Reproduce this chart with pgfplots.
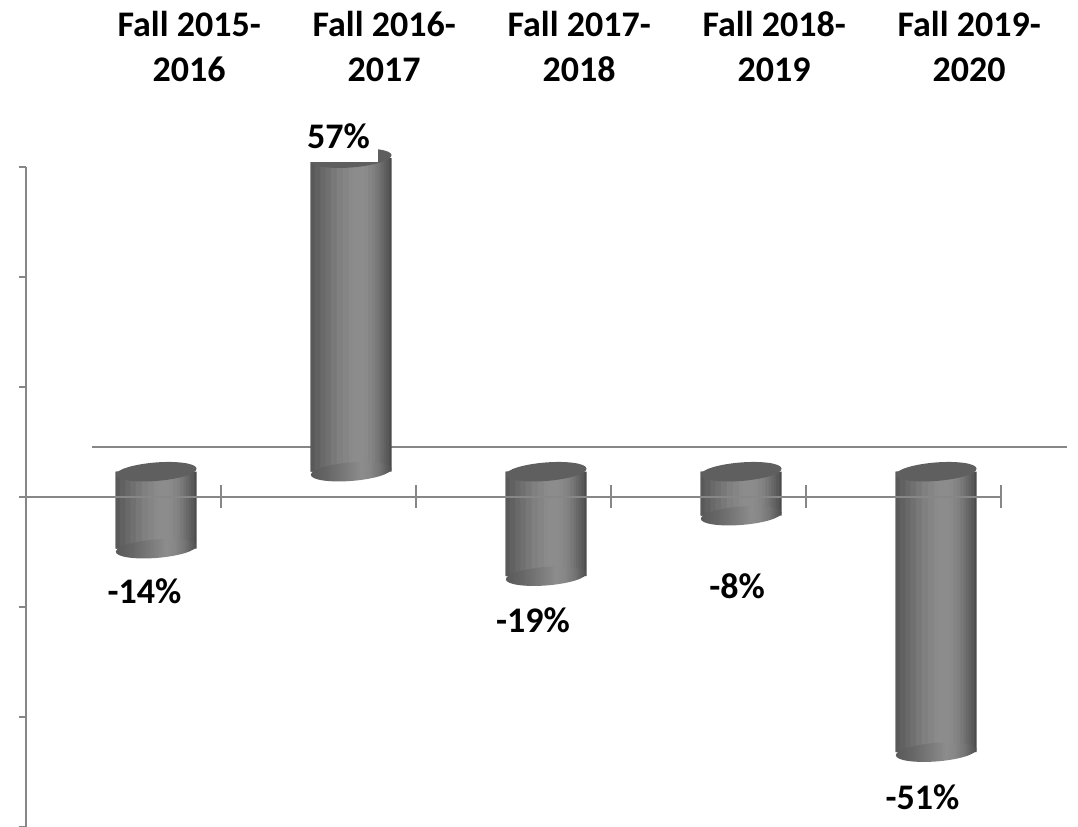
\documentclass[border=0pt]{standalone}
\usepackage{pgfplots}
\usepackage{pgfplotstable}
\pgfplotsset{compat=1.18}
\usepackage{fontspec}
\setmainfont{Carlito}
\definecolor{axgray}{HTML}{878787}
\definecolor{topface}{HTML}{5F5F5F}
\pgfdeclarehorizontalshading{cylshade}{100bp}{%
  rgb(0bp)=(0.35,0.35,0.35);
  rgb(25bp)=(0.35,0.35,0.35);
  rgb(35bp)=(0.40,0.40,0.40);
  rgb(45bp)=(0.47,0.47,0.47);
  rgb(52bp)=(0.52,0.52,0.52);
  rgb(56bp)=(0.55,0.55,0.55);
  rgb(61bp)=(0.53,0.53,0.53);
  rgb(67bp)=(0.46,0.46,0.46);
  rgb(72bp)=(0.36,0.36,0.36);
  rgb(75bp)=(0.30,0.30,0.30);
  rgb(100bp)=(0.30,0.30,0.30)}
% lower end of a cylinder
\pgfdeclareplotmark{cylbot}{%
  \pgfpathellipse{\pgfpointorigin}{\pgfqpoint{20.17pt}{1.6pt}}{\pgfqpoint{-0.4pt}{4.6pt}}%
  \pgfshadepath{cylshade}{0}\pgfusepath{discard}}
% visible upper face of a cylinder
\pgfdeclareplotmark{cyltop}{%
  \pgfsetfillcolor{topface}%
  \pgfpathellipse{\pgfpointorigin}{\pgfqpoint{20.17pt}{1.6pt}}{\pgfqpoint{-0.4pt}{4.6pt}}%
  \pgfusepath{fill}}
\pgfplotsset{
  base/.style={scale only axis, width=487.5pt, height=330pt,
    xmin=-0.5, xmax=4.5, ymin=-60, ymax=60, at={(0pt,0pt)}, anchor=south west},
  % nested bar layers giving the horizontal tone of a cylinder
  lev0/.style={fill={rgb,1:red,0.30;green,0.30;blue,0.30}, bar width=40.5pt, bar shift=0pt},
  lev1/.style={fill={rgb,1:red,0.35;green,0.35;blue,0.35}, bar width=39.285pt, bar shift=-0.6075pt},
  lev2/.style={fill={rgb,1:red,0.38;green,0.38;blue,0.38}, bar width=35.64pt, bar shift=-0.405pt},
  lev3/.style={fill={rgb,1:red,0.41;green,0.41;blue,0.41}, bar width=31.59pt, bar shift=0.405pt},
  lev4/.style={fill={rgb,1:red,0.44;green,0.44;blue,0.44}, bar width=27.945pt, bar shift=1.0125pt},
  lev5/.style={fill={rgb,1:red,0.47;green,0.47;blue,0.47}, bar width=23.895pt, bar shift=1.8225pt},
  lev6/.style={fill={rgb,1:red,0.50;green,0.50;blue,0.50}, bar width=19.44pt, bar shift=2.43pt},
  lev7/.style={fill={rgb,1:red,0.52;green,0.52;blue,0.52}, bar width=14.58pt, bar shift=3.24pt},
  lev8/.style={fill={rgb,1:red,0.54;green,0.54;blue,0.54}, bar width=9.72pt, bar shift=3.645pt},
  lev9/.style={fill={rgb,1:red,0.55;green,0.55;blue,0.55}, bar width=5.67pt, bar shift=3.645pt},
}
\pgfplotstableread{
x y
0 -14
1 57
2 -19
3 -8
4 -51
}\growth
\newcommand{\lbl}{\bfseries\fontsize{18}{22.5}\selectfont}
\begin{document}
\begin{tikzpicture}
% y axis and category names
\begin{axis}[base,
  axis y line=left, axis x line=top,
  x axis line style={draw=none},
  y axis line style={draw=axgray, line width=1pt, -},
  ytick={-60,-40,...,60}, yticklabels={},
  ytick style={draw=axgray, line width=1pt},
  tick align=outside, major tick length=3.5pt,
  xtick={0,1,2,3,4}, xtick style={draw=none},
  xticklabels={{Fall 2015-\\2016},{Fall 2016-\\2017},{Fall 2017-\\2018},{Fall 2018-\\2019},{Fall 2019-\\2020}},
  xticklabel style={align=center, font=\lbl, inner sep=0pt, anchor=south, xshift=33pt, yshift=38.85pt},
]
\end{axis}
% back wall floor line (full depth: 33pt right, 25pt up)
\begin{axis}[base, hide axis, clip=false,
  xmin=-0.83846, xmax=4.16154, ymin=-69.0909, ymax=50.9091]
\addplot[draw=axgray, line width=1pt] coordinates {(-0.5,0) (4.5,0)};
\end{axis}
% cylinders (half depth: 16.5pt right, 12.5pt up)
\begin{axis}[base, hide axis, clip=false,
  xmin=-0.66923, xmax=4.33077, ymin=-64.5455, ymax=55.4545]
\addplot[only marks, mark=cylbot] table[x=x, y expr={min(\thisrow{y},0)}] {\growth};
\pgfplotsinvokeforeach{0,...,9}{
  \addplot[ybar, draw=none, lev#1] table[x=x, y=y] {\growth};
}
\addplot[only marks, mark=cyltop] table[x=x, y expr={max(\thisrow{y},0)}] {\growth};
\end{axis}
% zero line with category ticks, and data labels
\begin{axis}[base, clip=false,
  axis x line=middle, axis y line=none,
  axis line style={draw=axgray, line width=1pt, -},
  x axis line style={-},
  xtick={0.5,1.5,2.5,3.5,4.5}, xticklabels={},
  tick align=center, major tick length=11.5pt,
  xtick style={draw=axgray, line width=1pt},
  ytick=\empty,
]
\node[anchor=base, font=\lbl] at (axis cs:0.109,-19.33) {-14\%};
\node[anchor=base, font=\lbl, fill=white, inner xsep=4pt, inner ysep=3pt, text depth=4pt] at (axis cs:1.104,63.4) {57\%};
\node[anchor=base, font=\lbl] at (axis cs:2.102,-24.6) {-19\%};
\node[anchor=base, font=\lbl] at (axis cs:3.148,-18.42) {-8\%};
\node[anchor=base, font=\lbl] at (axis cs:4.099,-56.96) {-51\%};
\end{axis}
\pgfresetboundingbox
\path (-12.85pt,0.35pt) rectangle (526.15pt,413.35pt);
\end{tikzpicture}
\end{document}
